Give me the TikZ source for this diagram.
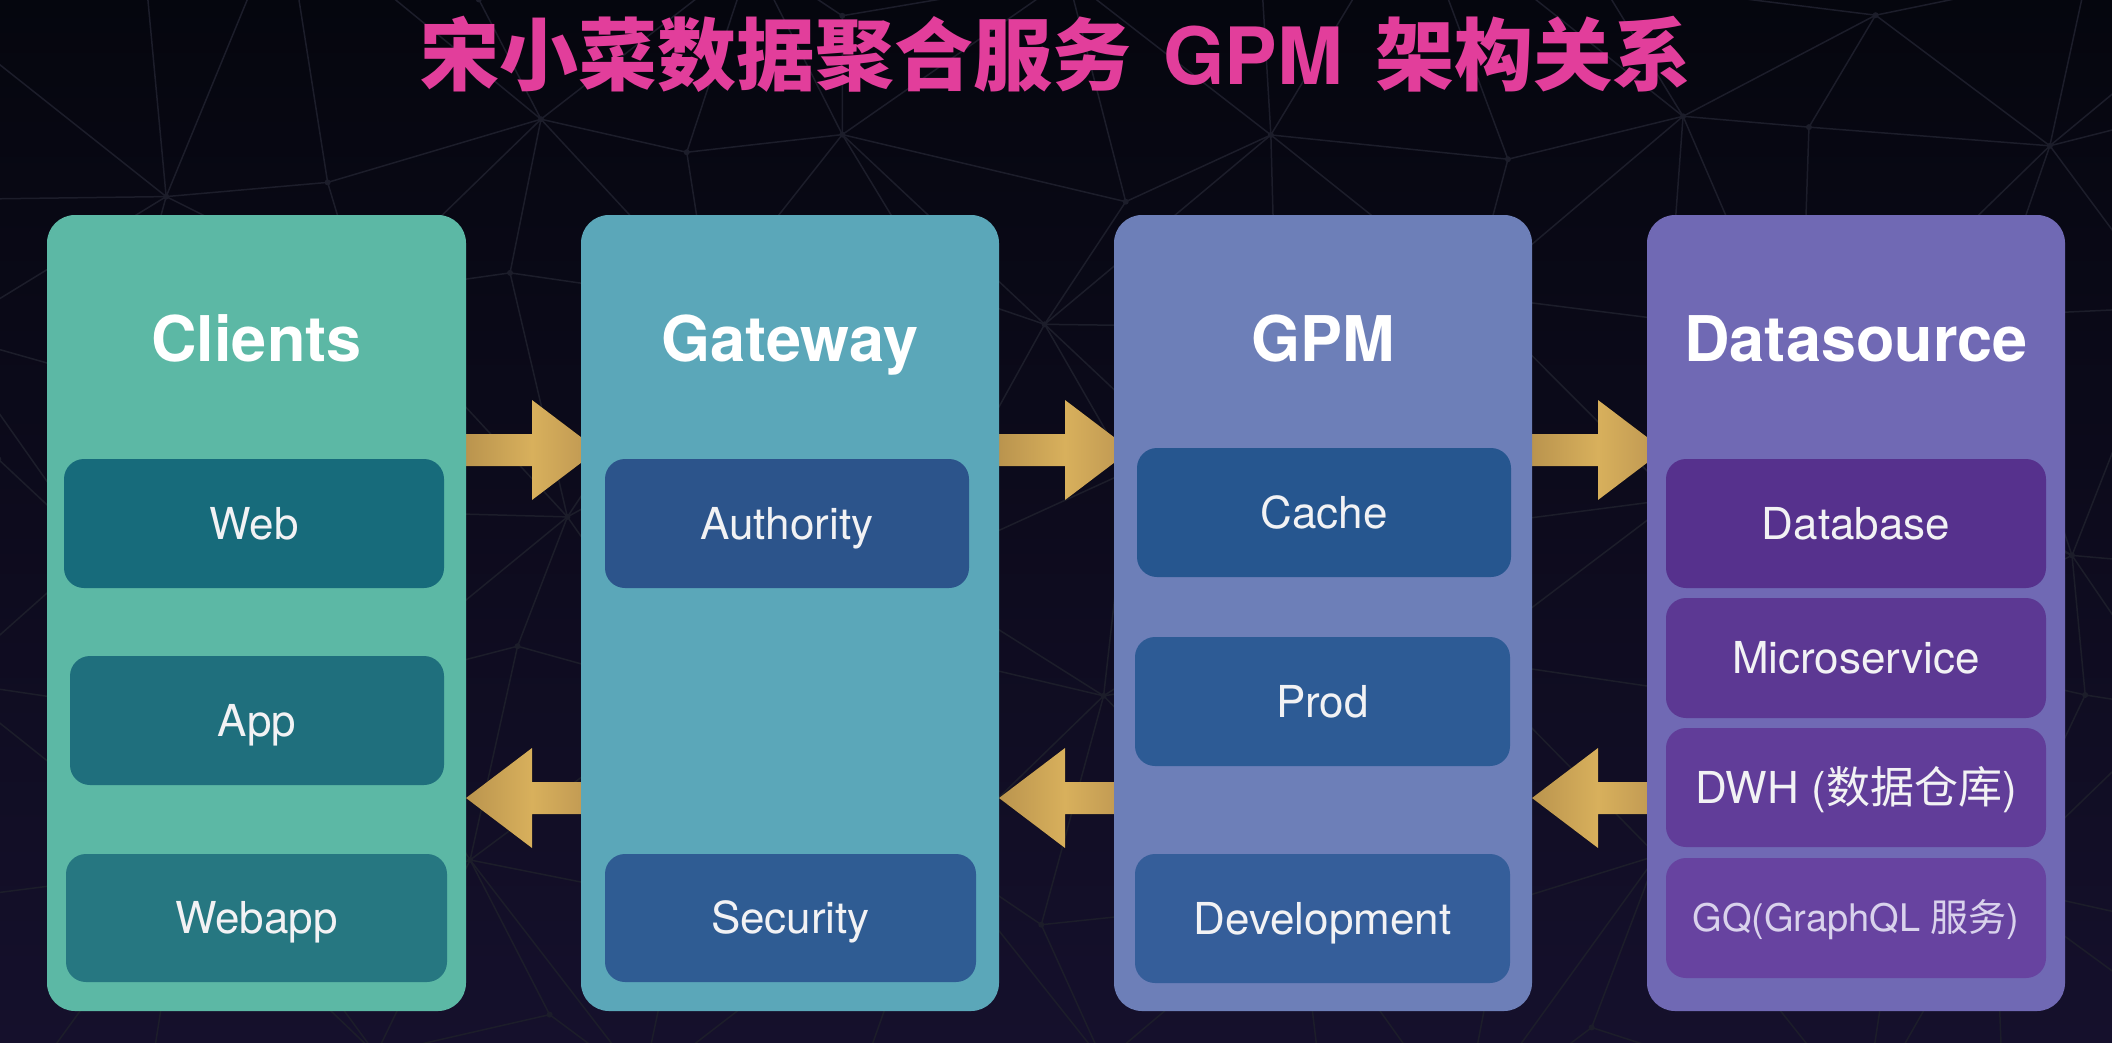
\documentclass[tikz,border=0pt]{standalone}
\usepackage{fontspec}
\setmainfont{TeX Gyre Heros}
\newfontfamily\cjk{Noto Sans CJK SC}
\usetikzlibrary{calc}
\pgfdeclarelayer{bglayer}
\pgfdeclarelayer{arrowlayer}
\pgfsetlayers{bglayer,arrowlayer,main}

\definecolor{bgtop}{HTML}{05060E}
\definecolor{bgbot}{HTML}{15102C}
\definecolor{meshcol}{HTML}{1C1D2A}
\definecolor{titlepink}{HTML}{E23E9B}
\definecolor{subtext}{HTML}{F2F2F4}
\definecolor{gqtext}{HTML}{D9D2EC}
\definecolor{arrowdark}{HTML}{BA944E}
\definecolor{arrowlight}{HTML}{D8B05C}
\definecolor{arrowdarkb}{HTML}{BC9551}
% columns
\definecolor{cClients}{HTML}{5CB8A5}
\definecolor{cGateway}{HTML}{5BA7B9}
\definecolor{cGPM}{HTML}{6D7FB8}
\definecolor{cData}{HTML}{7069B4}
% sub boxes
\definecolor{sWeb}{HTML}{176B7B}
\definecolor{sApp}{HTML}{1F6F7D}
\definecolor{sWebapp}{HTML}{267781}
\definecolor{sAuth}{HTML}{2C548B}
\definecolor{sSec}{HTML}{2F5C93}
\definecolor{sCache}{HTML}{26568F}
\definecolor{sProd}{HTML}{2D5B95}
\definecolor{sDev}{HTML}{355E9A}
\definecolor{sDb}{HTML}{56318D}
\definecolor{sMicro}{HTML}{5C3893}
\definecolor{sDwh}{HTML}{613D99}
\definecolor{sGq}{HTML}{6743A0}

\tikzset{
  colbox/.style={draw=none, rounded corners=28pt, minimum width=418pt,
    minimum height=796pt, inner sep=0pt, outer sep=0pt},
  subbox/.style={draw=none, rounded corners=20pt, inner sep=0pt, outer sep=0pt,
    text=subtext, font=\fontsize{44}{50}\selectfont, text height=31.6pt,
    text depth=0pt, align=center},
  gqbox/.style={subbox, text=gqtext, font=\fontsize{38}{44}\selectfont,
    text height=27.3pt},
  heading/.style={text=white, font=\fontsize{63}{70}\selectfont\bfseries,
    anchor=base, inner sep=0pt},
  flowarrow/.style={left color=arrowdark, right color=arrowdarkb,
    middle color=arrowlight, draw=none},
  mesh/.style={draw=meshcol, line width=1.5pt},
}

\begin{document}
\begin{tikzpicture}[x=1pt,y=-1pt]
\useasboundingbox (0,0) rectangle (2112,1042);

% ---------- background ----------
\begin{pgfonlayer}{bglayer}
  \fill[top color=bgtop, bottom color=bgbot] (0,0) rectangle (2112,1042);
  \pgfmathsetseed{12}
  \foreach \i in {0,...,12}{
    \foreach \j in {0,...,6}{
      \pgfmathsetmacro\mx{\i*190-60+rand*60}
      \pgfmathsetmacro\my{\j*185-40+rand*60}
      \coordinate (m-\i-\j) at (\mx,\my);
    }
  }
  \foreach \i [evaluate=\i as \ii using int(\i+1)] in {0,...,11}{
    \foreach \j [evaluate=\j as \jj using int(\j+1)] in {0,...,5}{
      \draw[mesh] (m-\i-\j) -- (m-\ii-\j);
      \draw[mesh] (m-\i-\j) -- (m-\i-\jj);
      \pgfmathparse{int(mod(\i+\j,2))}
      \ifnum\pgfmathresult=0
        \draw[mesh] (m-\i-\j) -- (m-\ii-\jj);
      \else
        \draw[mesh] (m-\ii-\j) -- (m-\i-\jj);
      \fi
    }
  }
  \foreach \j [evaluate=\j as \jj using int(\j+1)] in {0,...,5}{
    \draw[mesh] (m-12-\j) -- (m-12-\jj);
  }
  \foreach \i [evaluate=\i as \ii using int(\i+1)] in {0,...,11}{
    \draw[mesh] (m-\i-6) -- (m-\ii-6);
  }
  \foreach \i in {0,...,12}{
    \foreach \j in {0,...,6}{
      \fill[meshcol] (m-\i-\j) circle[radius=3pt];
    }
  }
\end{pgfonlayer}

% ---------- title ----------
\node[anchor=base, text=titlepink, inner sep=0pt,
      font=\fontsize{79}{90}\selectfont\bfseries] (title) at (1056,84)
  {{\cjk 宋小菜数据聚合服务}\hspace{0.4em}GPM\hspace{0.4em}{\cjk 架构关系}};

% ---------- columns ----------
\node[colbox, fill=cClients, minimum width=419pt] (clients) at (256.5,613) {};
\node[colbox, fill=cGateway] (gateway) at (790,613) {};
\node[colbox, fill=cGPM] (gpm) at (1323,613) {};
\node[colbox, fill=cData] (datasource) at (1856,613) {};

\node[heading] (hClients) at (256.5,361) {Clients};
\node[heading] (hGateway) at (790,361) {Gateway};
\node[heading] (hGPM) at (1323,361) {GPM};
\node[heading] (hData) at (1856,361) {Datasource};

% ---------- sub boxes ----------
\node[subbox, fill=sWeb, minimum width=380pt, minimum height=129pt] (web) at (254,523.5) {Web};
\node[subbox, fill=sApp, minimum width=374pt, minimum height=129pt] (app) at (257,720.5) {App};
\node[subbox, fill=sWebapp, minimum width=381pt, minimum height=128pt] (webapp) at (256.5,918) {Webapp};

\node[subbox, fill=sAuth, minimum width=364pt, minimum height=129pt] (authority) at (787,523.5) {Authority};
\node[subbox, fill=sSec, minimum width=371pt, minimum height=128pt] (security) at (790.5,918) {Security};

\node[subbox, fill=sCache, minimum width=374pt, minimum height=129pt] (cache) at (1324,512.5) {Cache};
\node[subbox, fill=sProd, minimum width=375pt, minimum height=129pt] (prod) at (1322.5,701.5) {Prod};
\node[subbox, fill=sDev, minimum width=375pt, minimum height=129pt] (development) at (1322.5,918.5) {Development};

\node[subbox, fill=sDb, minimum width=380pt, minimum height=129pt] (database) at (1856,523.5) {Database};
\node[subbox, fill=sMicro, minimum width=380pt, minimum height=120pt] (micro) at (1856,658) {Microservice};
\node[subbox, fill=sDwh, minimum width=380pt, minimum height=119pt] (dwh) at (1856,787.5) {DWH ({\cjk 数据仓库})};
\node[gqbox, fill=sGq, minimum width=380pt, minimum height=120pt] (gq) at (1856,918) {GQ(GraphQL {\cjk 服务})};

% ---------- arrows ----------
\coordinate (rowA) at (0,450);
\coordinate (rowB) at (0,798);
\begin{pgfonlayer}{arrowlayer}
  % forward arrows
  \foreach \a/\b in {clients/gateway, gateway/gpm, gpm/datasource}{
    \fill[flowarrow] ($(\a.east |- rowA)+(0,-16)$) -- ++(66,0) -- ++(0,-34)
      -- ++(66,50) -- ++(-66,50) -- ++(0,-34) -- ++(-66,0) -- cycle;
  }
  % backward arrows
  \foreach \a/\b in {gateway/clients, gpm/gateway, datasource/gpm}{
    \fill[flowarrow] (\b.east |- rowB) -- ++(66,-50) -- ++(0,34)
      -- ++(66,0) -- ++(0,32) -- ++(-66,0) -- ++(0,34) -- cycle;
  }
\end{pgfonlayer}
\end{tikzpicture}
\end{document}
